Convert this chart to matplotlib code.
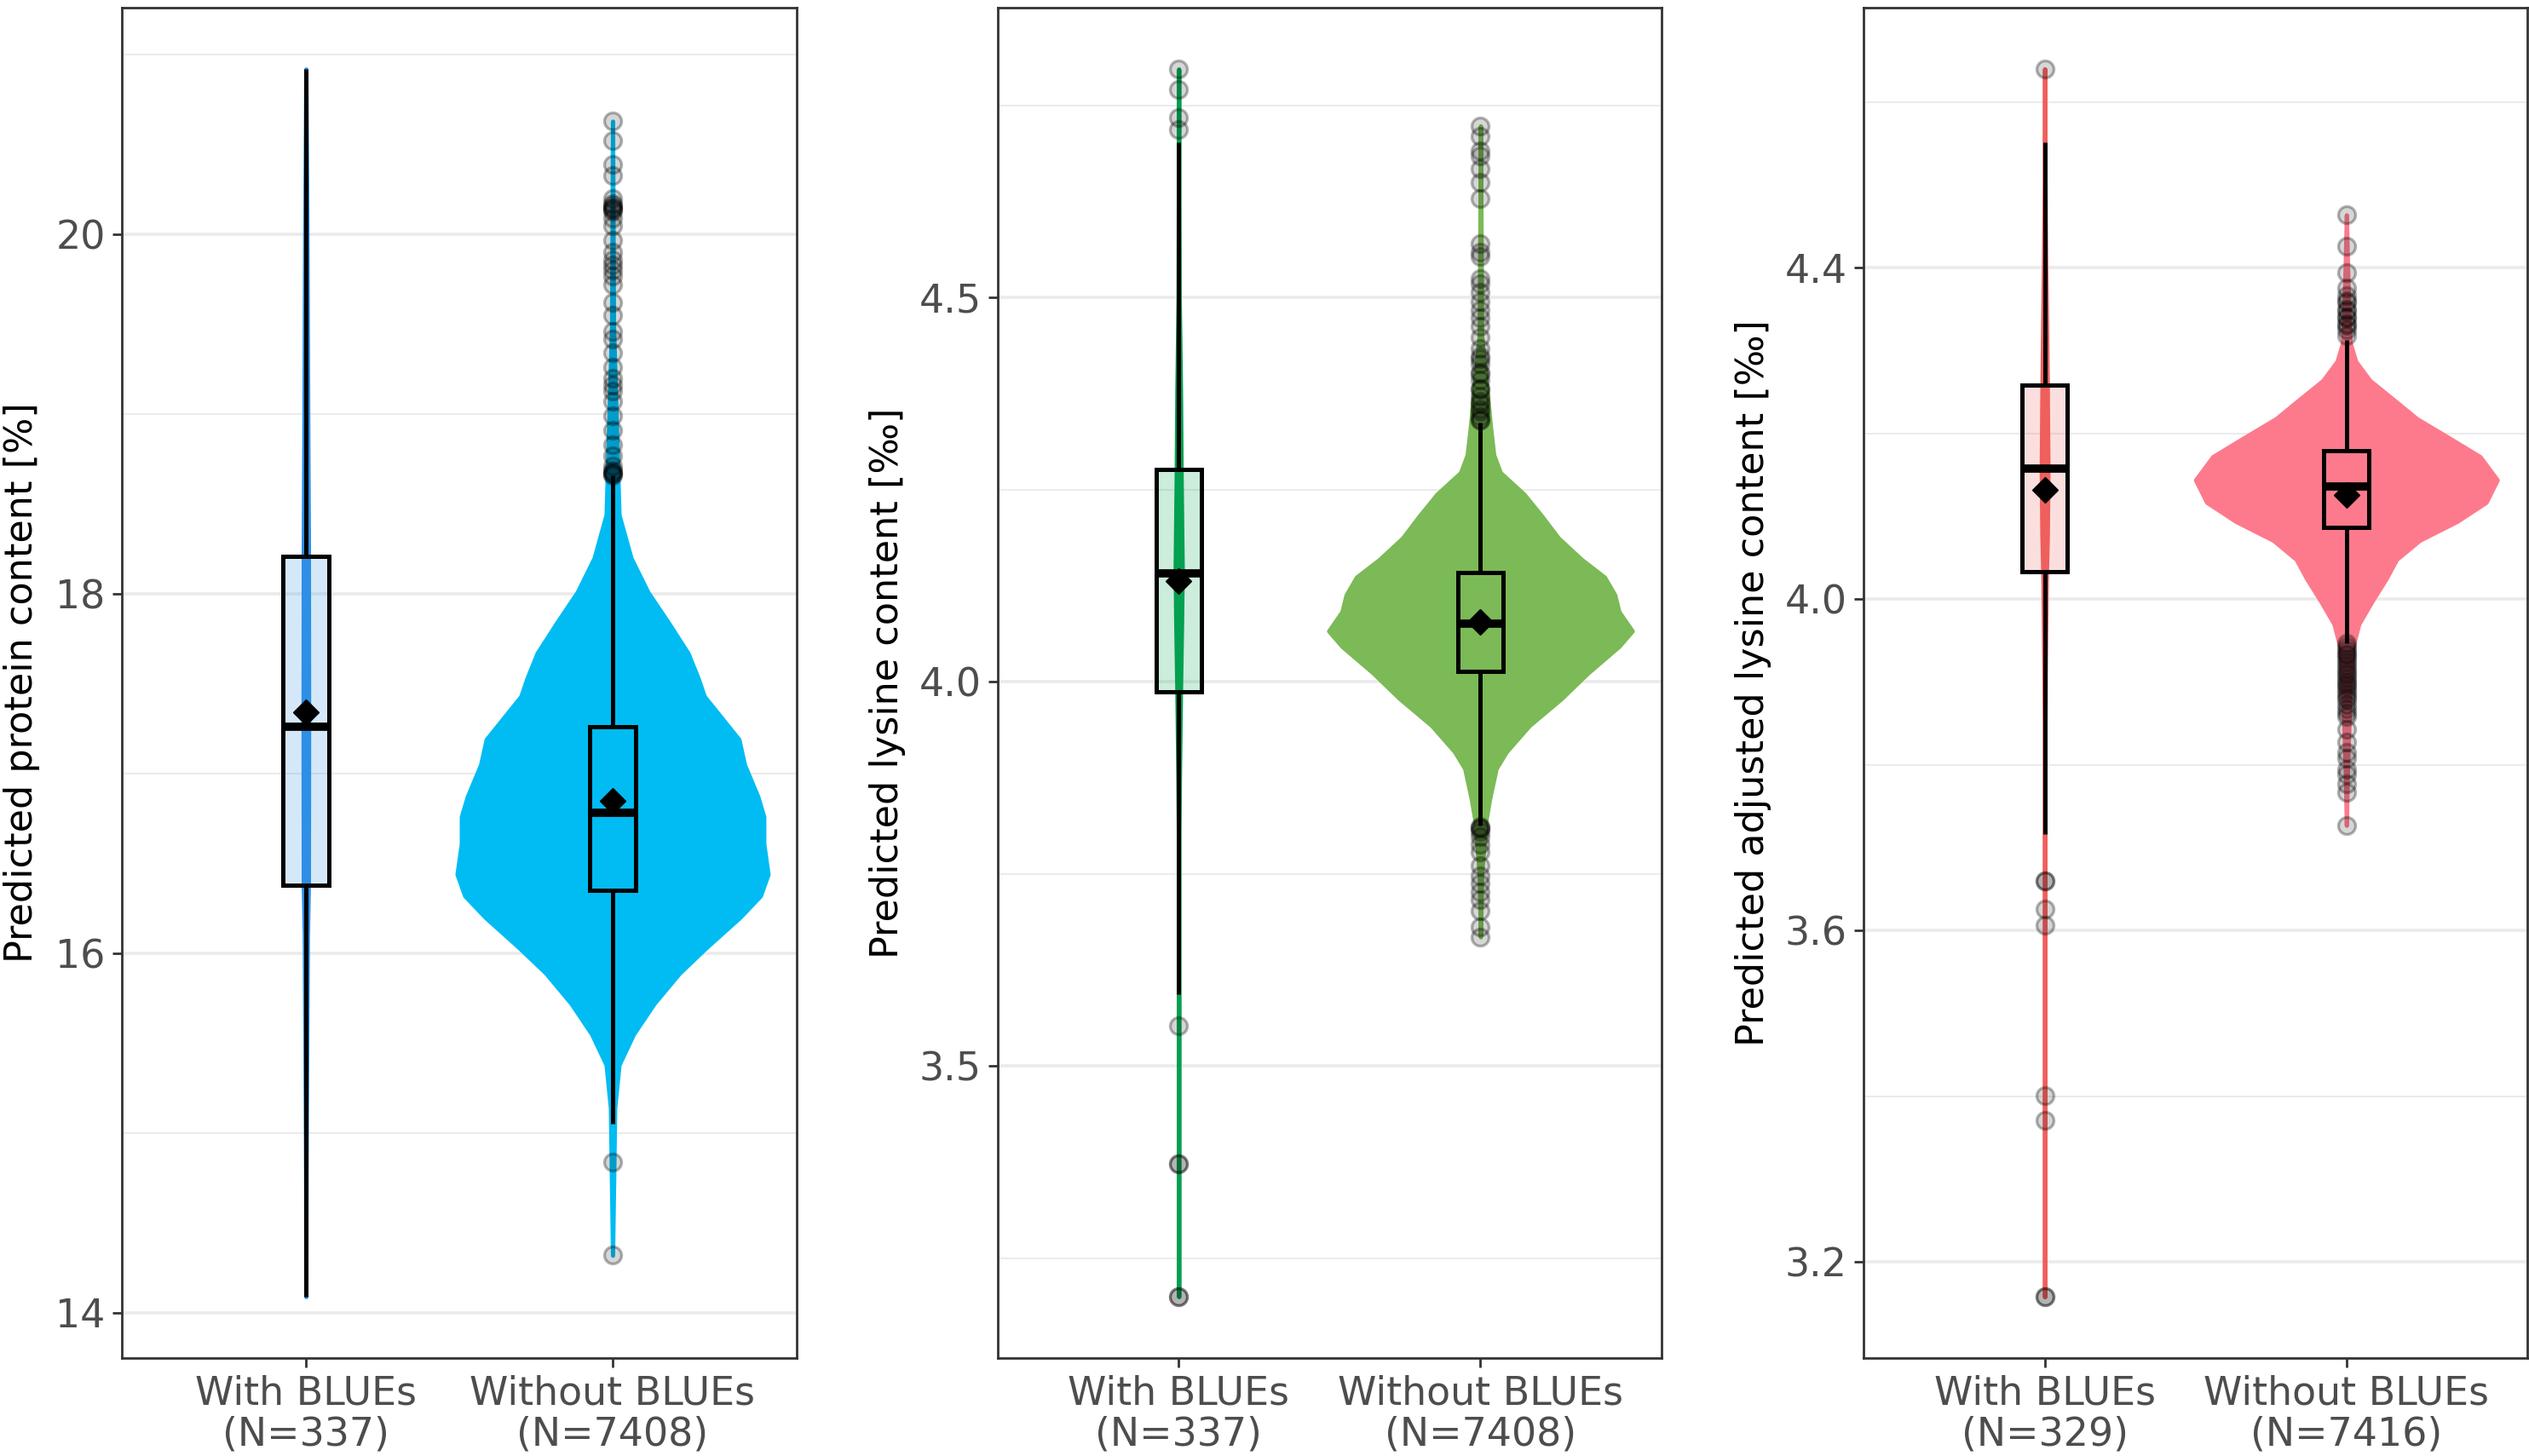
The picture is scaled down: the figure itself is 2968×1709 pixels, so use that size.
import matplotlib
matplotlib.use('Agg')
import matplotlib.colors as mcolors
import matplotlib.pyplot as plt
import numpy as np

from matplotlib.ticker import FormatStrFormatter

groups = ['With BLUEs', 'Without BLUEs']

# stats per group: q1, median, q3, lower whisker, upper whisker, mean

# --- predicted protein content ---
protein_n = [337, 7408]
protein_with_stats = [16.38, 17.26, 18.21, 14.09, 20.92, 17.34]
protein_without_stats = [16.35, 16.78, 17.26, 15.05, 18.66, 16.85]
protein_with_fliers = []
protein_without_fliers = [
    20.63, 20.52, 20.39, 20.33, 20.20, 20.17, 20.16, 20.15, 20.15, 20.14,
    20.13, 20.09, 20.05, 19.97, 19.90, 19.86, 19.83, 19.80, 19.77, 19.72,
    19.62, 19.55, 19.46, 19.42, 19.34, 19.26, 19.20, 19.16, 19.13, 19.07,
    18.99, 18.91, 18.83, 18.77, 18.71, 18.69, 18.68, 18.67, 18.67, 18.66,
    14.84, 14.32]
# violin outline: y value and half width (x units)
protein_with_vy = [14.09, 14.76, 15.43, 16.10, 16.40, 17.30, 18.24, 19.00, 20.11, 20.92]
protein_with_vw = [0, 0.0007, 0.0028, 0.005, 0.0083, 0.009, 0.0083, 0.006, 0.0033, 0]
protein_without_vy = [14.32, 15.14, 15.38, 15.55, 15.72, 15.89, 16.03, 16.20, 16.32,
                      16.44, 16.61, 16.76, 16.87, 17.05, 17.19, 17.29, 17.43, 17.53,
                      17.67, 17.84, 18.01, 18.20, 18.44, 18.67, 19.50, 20.63]
protein_without_vw = [0, 0.007, 0.021, 0.068, 0.135, 0.218, 0.304, 0.415, 0.482,
                      0.507, 0.493, 0.493, 0.474, 0.430, 0.412, 0.365, 0.299, 0.279,
                      0.246, 0.182, 0.115, 0.060, 0.021, 0.017, 0.003, 0]
protein_colors = ['#2D8FE5', '#00BCF2']

# --- predicted lysine content ---
lysine_n = [337, 7408]
lysine_with_stats = [3.987, 4.141, 4.276, 3.593, 4.702, 4.131]
lysine_without_stats = [4.014, 4.076, 4.142, 3.813, 4.337, 4.078]
lysine_with_fliers = [4.797, 4.771, 4.734, 4.718, 3.552, 3.373, 3.373, 3.200, 3.200]
lysine_without_fliers = [
    4.723, 4.709, 4.691, 4.684, 4.667, 4.650, 4.629, 4.570, 4.559, 4.553,
    4.525, 4.518, 4.507, 4.494, 4.483, 4.473, 4.462, 4.448, 4.434, 4.424,
    4.420, 4.414, 4.403, 4.400, 4.393, 4.382, 4.380, 4.372, 4.365, 4.362,
    4.355, 4.351, 4.345, 4.341, 4.341,
    3.812, 3.809, 3.809, 3.805, 3.799, 3.789, 3.778, 3.761, 3.747, 3.737,
    3.726, 3.716, 3.702, 3.681, 3.668]
lysine_with_vy = [3.200, 3.77, 3.874, 3.989, 4.083, 4.147, 4.27, 4.378, 4.50, 4.797]
lysine_with_vw = [0, 0.0003, 0.0024, 0.006, 0.0098, 0.0116, 0.008, 0.006, 0.0018, 0]
lysine_without_vy = [3.668, 3.75, 3.819, 3.847, 3.887, 3.909, 3.943, 3.978, 4.011,
                     4.046, 4.066, 4.091, 4.113, 4.136, 4.159, 4.187, 4.216, 4.244,
                     4.272, 4.295, 4.329, 4.45, 4.723]
lysine_without_vw = [0, 0.004, 0.018, 0.030, 0.052, 0.086, 0.162, 0.268, 0.355,
                     0.459, 0.503, 0.459, 0.445, 0.411, 0.335, 0.258, 0.202, 0.144,
                     0.066, 0.044, 0.034, 0.004, 0]
lysine_colors = ['#03A050', '#7BBA56']

# --- predicted adjusted lysine content ---
adj_n = [329, 7416]
adj_with_stats = [4.033, 4.158, 4.258, 3.716, 4.552, 4.132]
adj_without_stats = [4.087, 4.136, 4.179, 3.947, 4.313, 4.126]
adj_with_fliers = [4.640, 3.660, 3.660, 3.626, 3.606, 3.401, 3.371, 3.158, 3.158]
adj_without_fliers = [
    4.464, 4.426, 4.394, 4.376, 4.366, 4.360, 4.358, 4.350, 4.348, 4.341,
    4.340, 4.333, 4.330, 4.325, 4.318,
    3.947, 3.943, 3.939, 3.935, 3.932, 3.928, 3.924, 3.920, 3.916, 3.912,
    3.909, 3.905, 3.901, 3.897, 3.894, 3.890, 3.886, 3.882, 3.879, 3.873,
    3.868, 3.863, 3.858, 3.843, 3.828, 3.815, 3.808, 3.795, 3.788, 3.777,
    3.767, 3.727]
adj_with_vy = [3.158, 3.786, 3.92, 4.02, 4.077, 4.154, 4.25, 4.34, 4.41, 4.552, 4.640]
adj_with_vw = [0, 0, 0.0024, 0.0052, 0.0089, 0.011, 0.0089, 0.006, 0.0033, 0, 0]
adj_without_vy = [3.727, 3.80, 3.896, 3.942, 3.97, 3.997, 4.025, 4.048, 4.071, 4.094,
                  4.117, 4.144, 4.172, 4.195, 4.218, 4.241, 4.264, 4.287, 4.31, 4.40,
                  4.464]
adj_without_vw = [0, 0.004, 0.013, 0.021, 0.041, 0.084, 0.132, 0.166, 0.242, 0.367,
                  0.463, 0.500, 0.443, 0.339, 0.233, 0.156, 0.078, 0.031, 0.012, 0.004,
                  0]
adj_colors = ['#EF5F5C', '#FD7A8C']


def draw_panel(ax, stats, fliers, vys, vws, colors, counts, ylabel,
               major, minor, fmt, label_x):
    positions = [1, 2]

    for pos, vy, vw, color in zip(positions, vys, vws, colors):
        vy = np.asarray(vy)
        vw = np.asarray(vw)
        ax.fill_betweenx(vy, pos - vw, pos + vw, facecolor=color,
                         edgecolor=color, linewidth=1.8, joinstyle='round',
                         zorder=2)

    bstats = []
    for st, fl in zip(stats, fliers):
        q1, med, q3, lo, hi, mean = st
        bstats.append({'q1': q1, 'med': med, 'q3': q3, 'whislo': lo,
                       'whishi': hi, 'mean': mean, 'fliers': fl})

    art = ax.bxp(
            bstats,
            positions=positions,
            widths=0.15,
            patch_artist=True,
            showmeans=True,
            showcaps=False,
            manage_ticks=False,
            zorder=3,
            boxprops={'edgecolor': 'black', 'linewidth': 1.8},
            whiskerprops={'color': 'black', 'linewidth': 1.8,
                          'solid_capstyle': 'butt'},
            medianprops={'color': 'black', 'linewidth': 3.5,
                         'solid_capstyle': 'butt'},
            meanprops={'marker': 'D', 'markerfacecolor': 'black',
                       'markeredgecolor': 'black', 'markersize': 7.5,
                       'markeredgewidth': 0.5},
            flierprops={'marker': 'o', 'markersize': 7.2,
                        'markerfacecolor': (0, 0, 0, 0.16),
                        'markeredgecolor': (0, 0, 0, 0.3),
                        'markeredgewidth': 1.2},
        )
    for patch, color in zip(art['boxes'], colors):
        patch.set_facecolor(mcolors.to_rgba(color, 0.2))

    allv = np.concatenate([np.asarray(v) for v in vys] +
                          [np.asarray(f, dtype=float) for f in fliers])
    lo, hi = allv.min(), allv.max()
    pad = 0.05 * (hi - lo)
    ax.set_ylim(lo - pad, hi + pad)
    ax.set_xlim(0.4, 2.6)

    ax.set_yticks(major)
    ax.set_yticks(minor, minor=True)
    ax.yaxis.set_major_formatter(FormatStrFormatter(fmt))
    ax.grid(axis='y', which='major', color='#EBEBEB', linewidth=1.3, zorder=0)
    ax.grid(axis='y', which='minor', color='#EBEBEB', linewidth=0.7, zorder=0)
    ax.set_axisbelow(True)

    ax.set_xticks(positions)
    ax.set_xticklabels([f'{g}\n(N={n})' for g, n in zip(groups, counts)])
    for lbl in ax.get_xticklabels():
        lbl.set_linespacing(1.1)

    ax.tick_params(which='major', length=4, width=1.0, color='#333333',
                   labelsize=16.5, labelcolor='#4D4D4D', pad=3)
    ax.tick_params(which='minor', length=0)
    for sp in ax.spines.values():
        sp.set_color('#333333')
        sp.set_linewidth(1.0)

    ax.set_ylabel(ylabel, fontsize=16, color='black', va='center')
    ax.yaxis.set_label_coords(label_x, 0.5)


def main():
    fig = plt.figure(figsize=(14.84, 8.545), dpi=200)

    ax1 = fig.add_axes([0.0482, 0.0673, 0.2668, 0.9274])
    ax2 = fig.add_axes([0.3945, 0.0673, 0.2625, 0.9274])
    ax3 = fig.add_axes([0.7369, 0.0673, 0.2625, 0.9274])

    draw_panel(ax1,
               [protein_with_stats, protein_without_stats],
               [protein_with_fliers, protein_without_fliers],
               [protein_with_vy, protein_without_vy],
               [protein_with_vw, protein_without_vw],
               protein_colors, protein_n,
               'Predicted protein content [%]',
               [14, 16, 18, 20], [15, 17, 19, 21], '%d', -0.148)

    draw_panel(ax2,
               [lysine_with_stats, lysine_without_stats],
               [lysine_with_fliers, lysine_without_fliers],
               [lysine_with_vy, lysine_without_vy],
               [lysine_with_vw, lysine_without_vw],
               lysine_colors, lysine_n,
               'Predicted lysine content [‰]',
               [3.5, 4.0, 4.5], [3.25, 3.75, 4.25, 4.75], '%.1f', -0.166)

    draw_panel(ax3,
               [adj_with_stats, adj_without_stats],
               [adj_with_fliers, adj_without_fliers],
               [adj_with_vy, adj_without_vy],
               [adj_with_vw, adj_without_vw],
               adj_colors, adj_n,
               'Predicted adjusted lysine content [‰]',
               [3.2, 3.6, 4.0, 4.4], [3.4, 3.8, 4.2, 4.6], '%.1f', -0.167)

    fig.savefig('out.png', dpi=200)


if __name__ == "__main__":
    main()
